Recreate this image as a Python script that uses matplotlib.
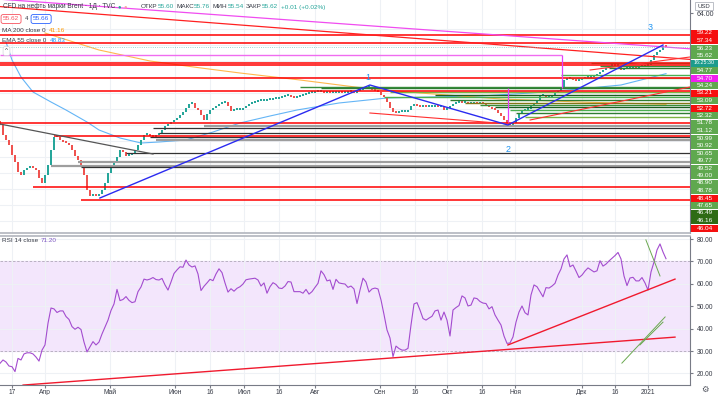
import matplotlib
matplotlib.use("Agg")
import matplotlib.pyplot as plt
from matplotlib.patches import Rectangle
import numpy as np

plt.rcParams['font.family'] = ['Liberation Sans', 'DejaVu Sans']

W, H = 720, 395

# daily closes, CFD Brent, mid-March 2020 .. early January 2021
closes = [
    36.00, 33.50, 32.25, 31.00, 28.50, 26.75, 24.25, 23.50, 24.75, 25.25,
    25.50, 25.25, 24.75, 22.75, 21.50, 23.50, 26.00, 29.75, 33.00, 33.00,
    32.25, 31.75, 31.50, 31.00, 29.75, 28.25, 27.25, 26.00, 23.50, 19.75,
    18.25, 18.50, 18.25, 18.75, 19.75, 21.50, 24.00, 25.25, 26.75, 28.00,
    29.75, 29.25, 28.25, 28.50, 29.00, 29.75, 31.00, 32.25, 33.50, 33.75,
    33.25, 33.00, 33.50, 34.00, 34.75, 35.75, 36.25, 36.75, 37.25, 37.75,
    38.50, 39.25, 40.25, 41.25, 41.50, 40.25, 39.75, 38.50, 37.25, 38.75,
    39.75, 40.25, 40.75, 41.25, 41.50, 41.75, 40.75, 39.50, 39.75, 39.75,
    39.75,
    40.25, 40.75, 41.25, 41.50, 41.75, 42.00, 42.00, 42.00, 42.25, 42.25,
    42.50, 42.50, 42.75, 43.00, 43.25, 43.25, 43.00, 42.75, 43.00, 43.25,
    43.50, 43.75, 44.00, 44.00, 44.25, 44.25, 44.25, 44.00, 44.25, 44.00,
    44.00, 44.00, 44.25, 44.00, 44.00, 44.25, 44.25, 44.00, 44.50, 44.75,
    45.00, 45.25, 45.25, 44.75, 44.50, 44.25, 43.50, 43.00, 41.75, 40.25,
    39.25, 39.00, 39.25, 39.25, 39.25, 39.75, 40.75, 41.00, 40.75, 40.50,
    40.75, 40.50, 40.50, 40.50, 40.75, 40.50, 40.50, 39.75, 40.25, 40.75,
    41.25, 41.50, 41.75, 41.50, 41.50, 41.25, 41.25, 41.50, 41.25, 41.50,
    41.25, 40.75, 40.50, 40.00, 39.75, 39.00, 38.25, 37.25, 36.25, 35.75,
    36.50, 37.75, 38.75, 39.50, 39.75, 40.00, 40.75, 41.25, 42.25, 43.25,
    43.50, 43.00, 43.00, 43.50, 44.00, 44.50, 45.00, 47.25, 47.50, 47.75,
    47.25, 47.00, 47.25, 47.50, 47.75, 47.75, 48.00, 48.25, 48.75, 49.25,
    49.75, 50.25, 50.75, 51.00, 50.75, 50.75, 49.75, 50.00, 50.25, 50.25,
    50.50, 50.25, 50.50, 50.50, 50.75, 51.00, 52.25, 53.50, 54.25, 54.75,
    55.75, 55.62,
]
first_open = 37.0
opens = [first_open] + closes[:-1]

rsi = [
    24.5, 26.0, 25.1, 23.3, 23.0, 20.8, 26.7, 26.0, 28.7, 29.2,
    29.2, 28.7, 27.3, 25.5, 30.4, 32.7, 42.4, 49.2, 48.8, 47.2,
    47.9, 47.9, 45.4, 44.1, 40.9, 39.7, 40.6, 39.6, 34.0, 29.6,
    31.9, 34.2, 32.7, 34.0, 37.6, 40.7, 43.8, 48.1, 51.0, 57.5,
    52.5, 53.0, 54.3, 52.6, 51.6, 52.0, 56.5, 58.6, 62.1, 61.7,
    62.1, 62.8, 61.9, 61.7, 62.4, 59.5, 57.2, 60.8, 64.6, 66.2,
    67.6, 67.4, 70.6, 68.4, 67.5, 68.0, 64.4, 57.0, 58.9, 60.4,
    62.0, 61.4, 64.4, 66.7, 65.0, 60.4, 56.3, 57.8, 56.7, 58.0,
    58.7, 59.9, 61.8, 62.1, 62.3, 62.5, 61.7, 59.0, 60.4, 55.8,
    58.7, 60.5, 59.7, 58.1, 57.9, 59.0, 61.0, 60.8, 56.5, 56.5,
    56.5, 55.8, 57.5, 55.4, 56.5, 58.4, 60.2, 65.8, 64.1, 61.3,
    61.7, 57.5, 62.0, 60.4, 60.1, 59.9, 58.4, 59.0, 57.7, 51.2,
    57.2, 62.5, 60.8, 56.3, 57.7, 58.1, 57.7, 52.8, 46.3, 39.4,
    35.8, 27.5, 32.2, 31.1, 30.4, 30.4, 31.2, 41.6, 51.0, 51.6,
    48.3, 44.5, 43.8, 44.7, 45.5, 47.9, 48.3, 43.8, 47.4, 43.8,
    36.7, 48.3, 49.4, 50.3, 54.6, 53.7, 50.1, 50.5, 53.7, 53.4,
    52.1, 51.4, 51.2, 48.8, 49.8, 46.1, 43.8, 41.6, 36.7, 33.4,
    33.6, 36.3, 42.9, 47.4, 50.1, 47.1, 46.1, 55.0, 59.5, 58.7,
    56.5, 54.2, 58.3, 58.1, 59.0, 60.2, 63.9, 66.6, 71.1, 72.9,
    67.6, 68.4, 65.7, 62.8, 63.9, 65.7, 67.1, 66.2, 65.3, 65.8,
    70.3, 67.9, 68.8, 70.2, 71.4, 72.6, 74.0, 71.1, 63.5, 59.2,
    62.6, 62.9, 61.3, 61.3, 62.8, 60.4, 57.2, 65.3, 69.7, 75.1,
    77.8, 74.2, 71.2,
]

# moving averages (read at a few days)
ema_days = [2, 4, 7, 11, 17, 22, 29, 33, 40, 47, 53, 62, 71, 80, 90, 99,
            113, 129, 143, 160, 177, 193, 207, 222]
ema_vals = [56.75, 52.25, 48.0, 44.25, 41.75, 39.75, 36.75, 34.75, 32.75,
            31.5, 31.75, 32.25, 34.25, 36.5, 38.25, 39.75, 41.5, 42.75,
            43.0, 43.25, 44.0, 45.0, 46.0, 48.83]
ma_days = [15, 33, 50, 67, 80, 100, 121, 140, 167, 193, 222]
ma_vals = [59.0, 54.75, 52.0, 50.25, 49.0, 47.25, 45.25, 44.0, 42.5, 41.75,
           41.16]

tick_days = [4, 15, 36.7, 58.3, 70, 81.3, 93, 105, 126.7, 138.3, 149, 160.7,
             171.7, 194, 205, 216]
tick_labels = ['17', 'Апр', 'Май', 'Июн', '16', 'Июл', '16', 'Авг', 'Сен',
               '16', 'Окт', '16', 'Ноя', 'Дек', '16', '2021']

# drawings: horizontal levels (price, first day)
red_levels = [58.5, 56.5, 51.6, 51.0, 47.75, 44.5, 36.5, 33.25, 20.5, 17.25]
red_start = [0, 0, 0, 0, 0, 0, 0, 18, 11, 27]
black_levels = [35.25, 34.0, 33.0, 29.0, 25.5]
black_start = [51, 53, 50, 42, 27]
gray_levels = [35.75, 32.25, 26.75, 25.75]
gray_start = [68, 52, 26, 17]
green_levels = [45.5, 45.25, 44.25, 43.5, 43.0, 42.25, 41.5, 41.0, 40.5,
                39.75, 39.0, 38.0, 51.5, 50.75, 50.25, 48.5, 47.75]
green_start = [100, 107, 130, 145, 128, 150, 155, 160, 165, 170, 172, 175,
               197, 200, 203, 187, 190]
green_colors = ['#388e3c', '#2e7d32', '#7cb342', '#1b5e20', '#4caf50',
                '#2e7d32', '#827717', '#388e3c', '#1b5e20', '#4caf50',
                '#2e7d32', '#7cb342', '#4caf50', '#388e3c', '#2e7d32',
                '#4caf50', '#81c784']

wave_days = [33.3, 123.3, 169.3, 221]
wave_vals = [17.75, 46.0, 36.0, 56.0]
wave_marks = ['1', '2', '3']
wave_mark_days = [122.7, 169.3, 216.7]
wave_mark_vals = [47.75, 29.75, 60.5]

axis_labels = ['59.22', '57.34', '56.23', '55.62', '16:25:30', '54.77',
               '54.70', '54.24', '53.21', '53.09', '52.72', '52.32', '51.78',
               '51.12', '50.99', '50.92', '50.65', '49.77', '49.52', '49.00',
               '48.90', '48.78', '48.45', '47.65', '46.49', '46.16', '46.04']
R, G, T, M, D = '#f50f0f', '#5fa84f', '#1c9c8c', '#f020f0', '#2e6b14'
axis_label_colors = [R, R, G, G, T, G, M, G, R, G, R, G, G, G, G, G, G, G,
                     G, G, G, G, R, G, D, D, R]

UP, DN = '#26a69a', '#ef5350'
GRID = '#eef1f5'
TXT = '#363a45'

fig = plt.figure(figsize=(W / 100, H / 100), dpi=100)
ax = fig.add_axes([0, 1 - 233 / H, 690 / W, 233 / H])
ra = fig.add_axes([0, 10 / H, 690 / W, 149 / H])

# ---- price panel
days = np.arange(len(closes))
o = np.array(opens)
c = np.array(closes)
lo = np.minimum(o, c)
hgt = np.maximum(np.abs(c - o), 0.5)
ax.bar(days, hgt, bottom=lo, width=0.7, linewidth=0,
       color=np.where(c >= o, UP, DN), zorder=4)

ax.plot(ema_days, ema_vals, color='#64b5f6', lw=0.8, zorder=3)
ax.plot(ma_days, ma_vals, color='#ffb74d', lw=0.8, zorder=3)

for lv, s in zip(gray_levels, gray_start):
    ax.hlines(lv, s, 230, color='#9e9e9e', lw=1.6, zorder=5)
for lv, s in zip(black_levels, black_start):
    ax.hlines(lv, s, 230, color='#333333', lw=0.9, zorder=5)
for lv, s, col in zip(green_levels, green_start, green_colors):
    ax.hlines(lv, s, 230, color=col, lw=1.0, zorder=5)
for lv, s in zip(red_levels, red_start):
    ax.hlines(lv, s, 230, color='#ff0000', lw=1.1, zorder=6)

ax.plot([0, 230], [65.6, 52.4], color='#ff2020', lw=0.9, zorder=6)
ax.plot([0, 230], [67.45, 55.05], color='#f04cf0', lw=0.9, zorder=6)
ax.plot([123.3, 170], [39.0, 36.25], color='#ff3030', lw=0.8, zorder=6)
ax.plot([176.7, 230], [37.25, 45.5], color='#ff3030', lw=0.8, zorder=6)
ax.plot([196.7, 230], [49.75, 53.0], color='#ff3030', lw=0.8, zorder=6)
ax.plot([0, 51], [36.25, 28.75], color='#555555', lw=0.9, zorder=6)
ax.hlines(53.5, 0, 187.3, color='#f06cf0', lw=1.0, zorder=6)
ax.vlines(187.3, 45.25, 53.5, color='#e040fb', lw=0.9, zorder=6)
ax.vlines(169.3, 36.75, 45.25, color='#e040fb', lw=0.9, zorder=6)
ax.hlines(closes[-1], 0, 230, color='#80cbc4', lw=0.6, linestyles=':', zorder=6)
ax.plot(wave_days, wave_vals, color='#2b2bf0', lw=1.0, zorder=7)
for t, d, v in zip(wave_marks, wave_mark_days, wave_mark_vals):
    ax.text(d, v, t, color='#2196f3', fontsize=6.5, ha='center', va='center',
            zorder=8)

ax.set_xlim(0, 230)
ax.set_ylim(9.0, 67.25)
ax.set_xticks(tick_days)
ax.set_yticks(np.arange(12, 68, 4), minor=True)
ax.tick_params(axis='x', length=0, labelbottom=False)
ax.tick_params(which='minor', length=0)
ax.yaxis.tick_right()
ax.set_yticks([64])
ax.set_yticklabels(['64.00'])
ax.tick_params(axis='y', length=2, labelsize=5, colors=TXT, pad=3,
               color='#787b86')
ax.grid(axis='x', color=GRID, lw=0.8, zorder=0)
ax.grid(axis='y', which='minor', color=GRID, lw=0.8, zorder=0)
for s in ['top', 'left']:
    ax.spines[s].set_visible(False)
ax.spines['right'].set_color('#787b86')
ax.spines['right'].set_linewidth(0.8)
ax.spines['bottom'].set_color('#b2b5be')
ax.spines['bottom'].set_linewidth(1.2)

# ---- RSI panel
ra.axhspan(30, 70, color='#f3e6fc', zorder=0)
for lv in [80, 60, 50, 40, 20]:
    ra.axhline(lv, color=GRID, lw=0.8, zorder=1)
for lv in [70, 30]:
    ra.axhline(lv, color='#b0a8b8', lw=0.6, ls=(0, (3, 2)), zorder=1)
ra.plot(np.arange(len(rsi)), rsi, color='#a34ccf', lw=0.8, zorder=4)
ra.plot([7.7, 225], [14.8, 36.2], color='#f01a2e', lw=1.0, zorder=5)
ra.plot([169.3, 225], [32.7, 62.1], color='#f01a2e', lw=1.0, zorder=5)
ra.plot([207.3, 221.7], [24.6, 45.2], color='#6aa84f', lw=0.7, zorder=5)
ra.plot([213.3, 221], [32.7, 42.9], color='#6aa84f', lw=0.7, zorder=5)
ra.plot([215.3, 220], [79.6, 63.5], color='#6aa84f', lw=0.7, zorder=5)

ra.set_xlim(0, 230)
ra.set_ylim(14.83, 81.34)
ra.set_xticks(tick_days)
ra.set_xticklabels(tick_labels)
ra.grid(axis='x', color=GRID, lw=0.8, zorder=0)
ra.tick_params(axis='x', length=2, labelsize=4.8, colors=TXT, pad=1,
               color='#787b86')
ra.yaxis.tick_right()
ra.set_yticks([20, 30, 40, 50, 60, 70, 80])
ra.set_yticklabels(['20.00', '30.00', '40.00', '50.00', '60.00', '70.00',
                    '80.00'])
ra.tick_params(axis='y', length=2, labelsize=4.8, colors=TXT, pad=3,
               color='#787b86')
ra.spines['left'].set_visible(False)
ra.spines['right'].set_color('#787b86')
ra.spines['right'].set_linewidth(0.8)
ra.spines['bottom'].set_color('#787b86')
ra.spines['bottom'].set_linewidth(0.8)
ra.spines['top'].set_color('#b2b5be')
ra.spines['top'].set_linewidth(1.2)

renderer = fig.canvas.get_renderer()


def ftxt(px, py, s, **kw):
    kw.setdefault('fontsize', 4.6)
    kw.setdefault('color', TXT)
    return fig.text(px / W, 1 - py / H, s, va='center', ha='left', **kw)


def seq(px, py, parts, **kw):
    # place text pieces one after another on a line
    x = px
    for s, col, gap in parts:
        t = ftxt(x, py, s, color=col, **kw)
        x += t.get_window_extent(renderer).width + gap
    return x


def fbox(px, py, w, h, **kw):
    fig.add_artist(Rectangle((px / W, 1 - (py + h / 2) / H), w / W, h / H,
                             transform=fig.transFigure, **kw))


# right-hand price labels
for k, (lab, col) in enumerate(zip(axis_labels, axis_label_colors)):
    py = 33 + 7.5 * k
    fbox(691, py, 27, 7.0, facecolor=col, edgecolor='none')
    fig.text(704.5 / W, 1 - py / H, lab, color='white', ha='center',
             va='center', fontsize=4.6 if len(lab) < 6 else 3.9)
fbox(695, 6, 18, 8, facecolor='white', edgecolor='#b2b5be', lw=0.6)
fig.text(704 / W, 1 - 6 / H, 'USD', fontsize=4.3, color=TXT, ha='center',
         va='center')

# legend / header
ftxt(3, 7, 'CFD на нефть марки Brent · 1Д · TVC', fontsize=4.7)
ftxt(117, 7, '●', fontsize=4.2, color='#26a69a')
ftxt(124, 7, '●', fontsize=4.2, color='#f7a1a8')
seq(141, 7, [('ОТКР', TXT, 0), ('55.60', UP, 2.5), ('МАКС', TXT, 0),
             ('55.76', UP, 2.5), ('МИН', TXT, 0), ('55.54', UP, 2.5),
             ('ЗАКР', TXT, 0), ('55.62', UP, 2.5), ('+0.01 (+0.02%)', UP, 0)],
    fontsize=4.6)
ftxt(3, 19, '55.62', color='#f7525f', fontsize=4.6,
     bbox=dict(boxstyle='round,pad=0.3', fc='white', ec='#f7525f', lw=0.6))
ftxt(25, 19, '4', color=TXT, fontsize=4.3)
ftxt(33, 19, '55.66', color='#2962ff', fontsize=4.6,
     bbox=dict(boxstyle='round,pad=0.3', fc='white', ec='#2962ff', lw=0.6))
seq(2, 31, [('MA 200 close 0', TXT, 3), ('41.16', '#ff9800', 0)])
seq(2, 41, [('EMA 55 close 0', TXT, 3), ('48.83', '#2196f3', 0)])
ftxt(5, 51, '^', fontsize=4.6,
     bbox=dict(boxstyle='round,pad=0.3', fc='white', ec='#d1d4dc', lw=0.5))
seq(2, 241, [('RSI 14 close', TXT, 3), ('71.20', '#7e57c2', 0)])
ftxt(701, 390, '⚙', fontsize=6, color='#50535e')

fig.savefig('out.png', dpi=100)
